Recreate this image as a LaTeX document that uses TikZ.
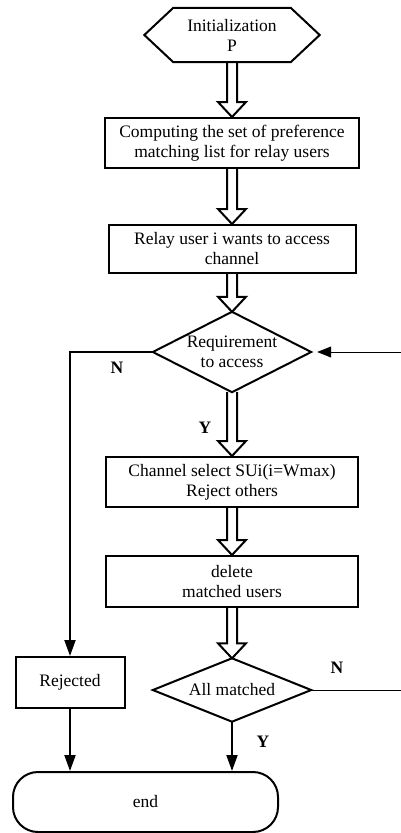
\documentclass[tikz,border=0pt]{standalone}
\usepackage{fontspec}
\setmainfont{Liberation Serif}
\usetikzlibrary{arrows.meta,calc}
\newcommand\harrow[2]{\draw[hollowarr] let \p1=(#1.south), \p2=(#2.north) in
  ({\x2-5pt},\y1) -- ({\x2-5pt},{\y2+15pt}) -- ({\x2-14pt},{\y2+15pt}) -- (\p2)
  -- ({\x2+14pt},{\y2+15pt}) -- ({\x2+5pt},{\y2+15pt}) -- ({\x2+5pt},\y1);}
\begin{document}
\begin{tikzpicture}[x=1pt,y=-1pt,
  every node/.style={font=\fontsize{17.5}{20}\selectfont},
  box/.style={draw, line width=2pt, align=center, inner sep=0pt},
  ghost/.style={align=center, inner sep=0pt},
  shapeline/.style={line width=2pt, line join=miter},
  hollowarr/.style={line width=2pt, line join=miter},
  solidarr/.style={line width=2pt, -{Triangle[length=16pt,width=11pt]}},
  thinarr/.style={line width=1pt, -{Triangle[length=14pt,width=11pt]}, shorten >=6pt},
  lbl/.style={font=\fontsize{17.5}{20}\selectfont\bfseries}]

\useasboundingbox (0,0) rectangle (401,833);

\node[ghost, minimum width=175, minimum height=54] (init) at (232,35) {Initialization\\P};
\draw[shapeline] ([xshift=29pt]init.north west) -- ([xshift=-29pt]init.north east) -- (init.east)
  -- ([xshift=-29pt]init.south east) -- ([xshift=29pt]init.south west) -- (init.west) -- cycle;

\node[box, minimum width=254, minimum height=50] (comp) at (232,143) {Computing the set of preference\\matching list for relay users};
\node[box, minimum width=247, minimum height=48] (relay) at (232,249) {Relay user i wants to access\\channel};
\node[ghost, minimum width=158, minimum height=80] (req) at (232,352) {Requirement\\to access};
\draw[shapeline] (req.north) -- (req.east) -- (req.south) -- (req.west) -- cycle;
\node[box, minimum width=252, minimum height=50] (sel) at (232,482) {Channel select SUi(i=Wmax)\\Reject others};
\node[box, minimum width=252, minimum height=51] (del) at (232,581.5) {delete\\matched users};
\node[ghost, minimum width=158, minimum height=63] (all) at (232,690) {All matched};
\draw[shapeline] (all.north) -- (all.east) -- (all.south) -- (all.west) -- cycle;
\node[box, minimum width=109, minimum height=51] (rej) at (70,682.5) {Rejected};
\node[box, rounded corners=25pt, minimum width=265, minimum height=60] (end) at (145.5,802) {end};

\harrow{init}{comp}
\harrow{comp}{relay}
\harrow{relay}{req}
\harrow{req}{sel}
\harrow{sel}{del}
\harrow{del}{all}

\draw[solidarr] (req.west) -| (rej.north);
\draw[solidarr] (rej.south) -- (rej.south |- end.north);
\draw[solidarr] (all.south) -- (all.south |- end.north);
\coordinate (r1) at (401,352);
\coordinate (r2) at (401,690);
\draw[thinarr] (r1) -- (req.east);
\draw[line width=1pt] (all.east) -- (r2);

\node[lbl] (n1) at (117,368) {N};
\node[lbl] (y1) at (205,428) {Y};
\node[lbl] (n2) at (337,668) {N};
\node[lbl] (y2) at (263,742) {Y};
\end{tikzpicture}
\end{document}
